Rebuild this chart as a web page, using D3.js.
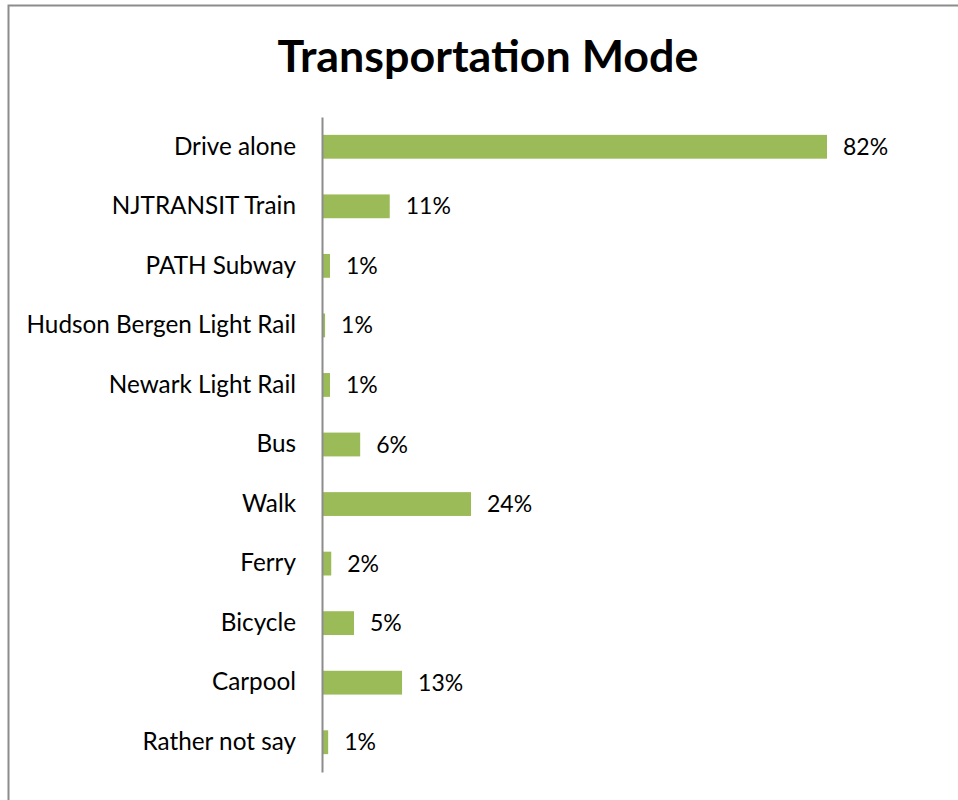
<!DOCTYPE html>
<html><head><meta charset="utf-8">
<script src="https://cdn.jsdelivr.net/npm/d3@7"></script>
<style>body{margin:0;background:#fff}svg{display:block}</style>
</head><body>
<svg id="c" width="958" height="800"></svg>
<script>
const categories = ["Drive alone","NJTRANSIT Train","PATH Subway","Hudson Bergen Light Rail","Newark Light Rail","Bus","Walk","Ferry","Bicycle","Carpool","Rather not say"];
const values = [82, 11, 1.3, 0.5, 1.3, 6.2, 24.2, 1.5, 5.2, 13, 1];
const valueLabels = ["82%","11%","1%","1%","1%","6%","24%","2%","5%","13%","1%"];
const title = "Transportation Mode";

const svg = d3.select("#c");
const font = "Lato, 'Open Sans', sans-serif";
svg.append("rect").attr("x",8.5).attr("y",5.5).attr("width",1000).attr("height",1000)
  .attr("fill","#fff").attr("stroke","#8c8c8c").attr("stroke-width",2);

svg.append("text").attr("x",488).attr("y",72).attr("text-anchor","middle")
  .attr("font-family",font).attr("font-weight","bold").attr("font-size",44.8).attr("fill","#000").text(title);

const x0 = 322;
const x = d3.scaleLinear().domain([0,82]).range([x0, 827]);
const y = d3.scaleBand().domain(categories).range([117,772]).paddingInner(0.6).paddingOuter(0.3);

const g = svg.append("g");
g.selectAll("rect.bar").data(categories).join("rect").attr("class","bar")
  .attr("x",x0).attr("y",d=>y(d)).attr("height",y.bandwidth())
  .attr("width",(d,i)=>x(values[i])-x0).attr("fill","#9BBB59");

g.selectAll("text.val").data(categories).join("text").attr("class","val")
  .attr("x",(d,i)=>x(values[i])+16).attr("y",d=>y(d)+y.bandwidth()/2).attr("dy","0.35em")
  .attr("font-family",font).attr("font-size",23).attr("fill","#000").text((d,i)=>valueLabels[i]);

const axis = svg.append("g").attr("transform",`translate(${x0},0)`)
  .call(d3.axisLeft(y).tickSize(0).tickPadding(26));
axis.select(".domain").attr("stroke","#8c8c8c").attr("stroke-width",2);
axis.selectAll("text").attr("font-family",font).attr("font-size",24.3).attr("fill","#000");
</script>
</body></html>
